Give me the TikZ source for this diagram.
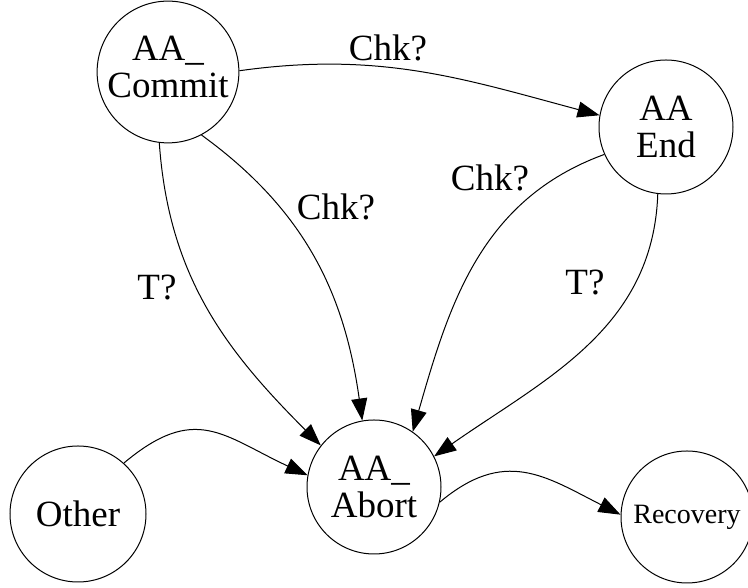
\documentclass[tikz,border=0pt]{standalone}
\usepackage{fontspec}
\setmainfont{Liberation Serif}
\newfontfamily\tnr{Liberation Serif}
\usetikzlibrary{arrows.meta}
\begin{document}
\begin{tikzpicture}[x=1pt,y=1pt,
  state/.style={circle,draw,line width=1pt,minimum size=134pt,inner sep=0pt,align=center,font=\tnr\fontsize{37}{37}\selectfont},
  lab/.style={font=\tnr\fontsize{37}{37}\selectfont,inner sep=0pt},
  edge/.style={line width=1pt,-{Triangle[length=22pt,width=16pt]}}]
\useasboundingbox (0,0) rectangle (748,588);
\node[state] (commit) at (168,516) {\raisebox{9pt}{\begin{tabular}{@{}c@{}}AA\_\\Commit\end{tabular}}};
\node[state] (end) at (666,461) {AA\\End};
\node[state] (abort) at (374,101) {AA\_\\Abort};
\node[state,minimum size=136pt] (other) at (78,74) {Other};
\node[state,minimum size=132pt,font=\tnr\fontsize{28}{28}\selectfont] (rec) at (687,71) {Recovery};

\draw[edge] (commit.1) to[out=8,in=165] (end.170);
\draw[edge] (commit.-62) to[out=-36,in=98] (abort.100);
\draw[edge] (commit.-97) to[out=-86,in=135] (abort.142);
\draw[edge] (end.204) to[out=200,in=74] (abort.55);
\draw[edge] (end.-97) to[out=-92,in=35] (abort.27);
\draw[edge] (other.48) to[out=40,in=155,looseness=1.3] (abort.170);
\draw[edge] (abort.-13) to[out=40,in=153,looseness=1.2] (rec.178);

\node[lab] (l1) at (388,540) {Chk?};
\node[lab] (l2) at (336,381) {Chk?};
\node[lab] (l3) at (157,300) {T?};
\node[lab] (l4) at (490,410) {Chk?};
\node[lab] (l5) at (585,305) {T?};
\end{tikzpicture}
\end{document}
